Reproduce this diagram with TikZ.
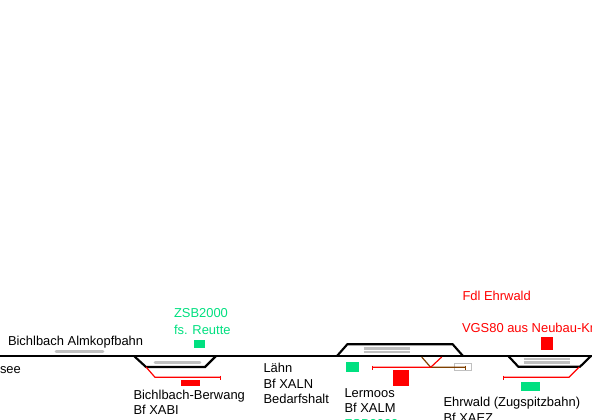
\documentclass[tikz,border=0pt]{standalone}
\usepackage{fontspec}
\setmainfont{Liberation Sans}
\definecolor{sigGreen}{HTML}{00E080}
\definecolor{sigRed}{HTML}{FF0000}
\definecolor{platGray}{HTML}{C0C0C0}
\definecolor{spurBrown}{HTML}{804000}
\tikzset{
  x=0.75pt,y=-0.75pt,
  lbl/.style={anchor=base west,inner sep=0pt,outer sep=0pt,font=\fontsize{9.7pt}{9.7pt}\selectfont,text=black},
  glbl/.style={lbl,text=sigGreen},
  rlbl/.style={lbl,text=sigRed},
  track/.style={line width=1.6pt,black,line join=miter},
  plat/.style={line width=2.2pt,platGray,line cap=round},
  plat2/.style={line width=1.9pt,platGray},
  redline/.style={line width=0.9pt,sigRed},
  brownline/.style={line width=0.9pt,spurBrown},
  redbox/.style={fill=sigRed,draw=none},
  greenbox/.style={fill=sigGreen,draw=none},
}
\begin{document}
\begin{tikzpicture}
\useasboundingbox (0,0) rectangle (592,420);
\clip (0,0) rectangle (592,420);
\fill[white] (0,0) rectangle (592,420);
% main line
\coordinate (mainL) at (0,356);
\coordinate (mainR) at (592,356);
\draw[track] (mainL) -- (mainR);
% Almkopfbahn
\draw[plat] (56,351.3) -- (103,351.3);
% Bichlbach-Berwang
\draw[track] (134,356) -- (146,367) -- (205,367) -- (216,356);
\draw[plat] (155,362.3) -- (200,362.3);
\draw[redline] (146,367) -- (155,377.3) -- (220.5,377.3);
\draw[redline] (220.5,375.5) -- (220.5,379.5);
\fill[redbox] (181,380) rectangle (200,386);
\fill[greenbox] (194,340) rectangle (205,348);
% Lermoos
\draw[track] (337,356) -- (347.3,344.3) -- (452.7,344.3) -- (463,356);
\draw[plat2] (363.5,348.3) -- (410,348.3);
\draw[plat2] (363.5,351.8) -- (410,351.8);
\fill[greenbox] (346,362.3) rectangle (359,372);
\fill[redbox] (393,370) rectangle (409,386);
\draw[draw=platGray,line width=0.9pt] (454.5,363.5) rectangle (471.5,370.5);
\draw[brownline] (421.7,357) -- (430.7,367.3) -- (465.3,367.3);
\draw[brownline] (465.3,365.5) -- (465.3,369.5);
\draw[redline] (372.5,367.3) -- (430.7,367.3) -- (441.7,357);
\draw[redline] (372.5,365.5) -- (372.5,369.5);
% Ehrwald
\draw[track] (508.3,356) -- (518.3,366.7) -- (580,366.7) -- (591,356);
\draw[plat2] (523.5,359.2) -- (570,359.2);
\draw[plat2] (523.5,362.7) -- (570,362.7);
\draw[redline] (503.5,377.3) -- (569,377.3) -- (579.3,367);
\draw[redline] (503.5,375.5) -- (503.5,379.5);
\fill[redbox] (541,337.3) rectangle (553,350);
\fill[greenbox] (521,382) rectangle (540,391);
% labels
\node[lbl] (almkopf) at (8,345) {Bichlbach Almkopfbahn};
\node[lbl] (see) at (0,373) {see};
\node[glbl] (zsbA) at (174,317.3) {ZSB2000};
\node[glbl] (fsR) at (174,334) {fs. Reutte};
\node[lbl] (berwang) at (133.5,399) {Bichlbach-Berwang};
\node[lbl] (xabi) at (133.5,414.5) {Bf XABI};
\node[lbl] (laehn) at (263.5,372) {Lähn};
\node[lbl] (xaln) at (263.5,388) {Bf XALN};
\node[lbl] (bedarf) at (263.5,403.5) {Bedarfshalt};
\node[lbl] (lermoos) at (344.5,397) {Lermoos};
\node[lbl] (xalm) at (344.5,412.5) {Bf XALM};
\node[glbl] (zsbB) at (344.5,428.5) {ZSB2000};
\node[lbl] (ehrwald) at (443.5,406) {Ehrwald (Zugspitzbahn)};
\node[lbl] (xaez) at (443.5,422) {Bf XAEZ};
\node[rlbl] (fdl) at (462.5,300.5) {Fdl Ehrwald};
\node[rlbl] (vgs) at (462,332.3) {VGS80 aus Neubau-Km};
\end{tikzpicture}
\end{document}
